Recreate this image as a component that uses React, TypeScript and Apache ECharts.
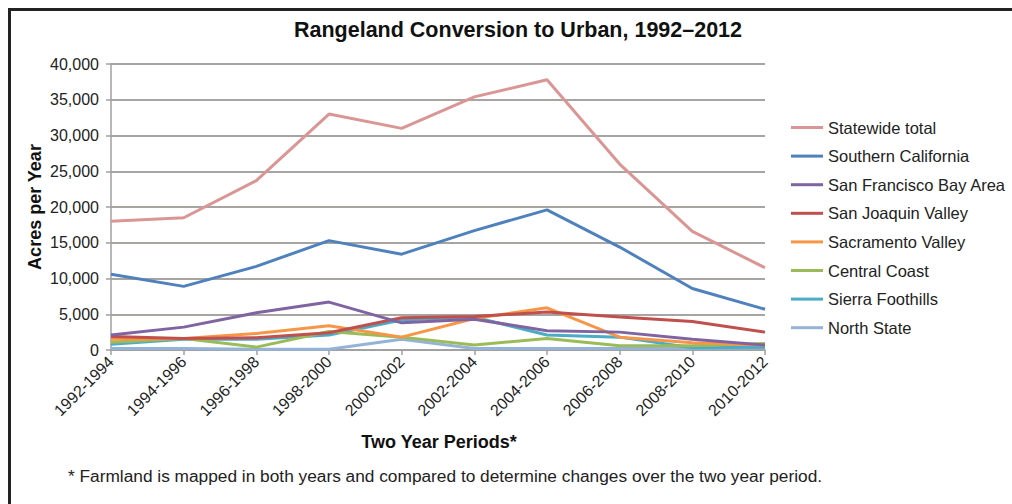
import React, { useEffect, useRef } from "react";
import * as echarts from "echarts";

const categories = [
  "1992-1994", "1994-1996", "1996-1998", "1998-2000", "2000-2002",
  "2002-2004", "2004-2006", "2006-2008", "2008-2010", "2010-2012",
];

const statewide = [18000, 18500, 23700, 33000, 31000, 35400, 37800, 26000, 16600, 11500];
const southernCA = [10600, 8900, 11700, 15300, 13400, 16700, 19600, 14400, 8600, 5700];
const sfBay = [2100, 3200, 5200, 6700, 3800, 4300, 2700, 2500, 1500, 700];
const sanJoaquin = [1900, 1600, 1700, 2400, 4500, 4700, 5300, 4600, 4000, 2500];
const sacramento = [1500, 1600, 2300, 3400, 1800, 4400, 5900, 1800, 1000, 700];
const centralCoast = [1100, 1600, 400, 2600, 1800, 700, 1600, 600, 600, 900];
const sierra = [800, 1500, 1500, 2100, 4200, 4600, 2100, 1800, 300, 400];
const northState = [200, 200, 100, 100, 1500, 200, 200, 200, 200, 300];

const seriesNames = [
  "Statewide total", "Southern California", "San Francisco Bay Area", "San Joaquin Valley",
  "Sacramento Valley", "Central Coast", "Sierra Foothills", "North State",
];
const seriesData = [statewide, southernCA, sfBay, sanJoaquin, sacramento, centralCoast, sierra, northState];
const seriesColors = ["#D99694", "#4F81BD", "#8064A2", "#C0504D", "#F79646", "#9BBB59", "#4BACC6", "#95B3D7"];

const FONT = "'Liberation Sans', Arial, sans-serif";

export default function App() {
  const ref = useRef<HTMLDivElement>(null);
  useEffect(() => {
    if (!ref.current) return;
    const chart = echarts.init(ref.current, null, { renderer: "svg" });
    chart.setOption({
      animation: false,
      backgroundColor: "#ffffff",
      textStyle: { fontFamily: FONT },
      grid: { left: 111, right: 275, top: 64, bottom: 154, containLabel: false },
      xAxis: {
        type: "category",
        data: categories,
        boundaryGap: false,
        axisLine: { lineStyle: { color: "#A0A0A0", width: 1.5 } },
        axisTick: { show: true, length: 5, alignWithLabel: true, lineStyle: { color: "#A0A0A0", width: 1.5 } },
        axisLabel: { rotate: 45, fontSize: 16, color: "#222", fontFamily: FONT, margin: 9 },
        splitLine: { show: false },
      },
      yAxis: {
        type: "value",
        min: 0,
        max: 40000,
        interval: 5000,
        axisLine: { show: true, lineStyle: { color: "#A0A0A0", width: 1.5 } },
        axisTick: { show: true, length: 5, lineStyle: { color: "#A0A0A0", width: 1.5 } },
        axisLabel: {
          fontSize: 16,
          color: "#222",
          fontFamily: FONT,
          margin: 12,
          formatter: (v: number) => v.toLocaleString("en-US"),
        },
        splitLine: { show: true, lineStyle: { color: "#A8A4A2", width: 1.8 } },
      },
      legend: {
        orient: "vertical",
        left: 786,
        top: 114,
        itemWidth: 32,
        itemHeight: 3,
        itemGap: 11.6,
        icon: "rect",
        data: seriesNames,
        textStyle: { fontSize: 16.5, lineHeight: 17, color: "#222", fontFamily: FONT },
      },
      series: seriesNames.map((name, i) => ({
        name,
        type: "line",
        data: seriesData[i],
        symbol: "none",
        lineStyle: { width: 3, color: seriesColors[i] },
        itemStyle: { color: seriesColors[i] },
        z: 10 - i,
      })),
      graphic: [
        {
          type: "polyline",
          shape: { points: [[9.5, 520], [9.5, 9.5], [1040, 9.5]] },
          style: { fill: "none", stroke: "#222", lineWidth: 3 },
          silent: true,
        },
        {
          type: "text",
          x: 518,
          y: 30,
          style: {
            text: "Rangeland Conversion to Urban, 1992–2012",
            font: `bold 21.5px ${FONT}`,
            fill: "#111",
            textAlign: "center",
            textVerticalAlign: "middle",
          },
        },
        {
          type: "text",
          x: 35,
          y: 207,
          rotation: Math.PI / 2,
          style: {
            text: "Acres per Year",
            font: `bold 18px ${FONT}`,
            fill: "#111",
            textAlign: "center",
            textVerticalAlign: "middle",
          },
        },
        {
          type: "text",
          x: 439,
          y: 442,
          style: {
            text: "Two Year Periods*",
            font: `bold 18px ${FONT}`,
            fill: "#111",
            textAlign: "center",
            textVerticalAlign: "middle",
          },
        },
        {
          type: "text",
          x: 68,
          y: 476,
          style: {
            text: "* Farmland is mapped in both years and compared to determine changes over the two year period.",
            font: `17.3px ${FONT}`,
            fill: "#222",
            textAlign: "left",
            textVerticalAlign: "middle",
          },
        },
      ],
    });
    return () => chart.dispose();
  }, []);
  return <div ref={ref} style={{ position: "fixed", left: 0, top: 0, width: 1040, height: 504 }} />;
}
